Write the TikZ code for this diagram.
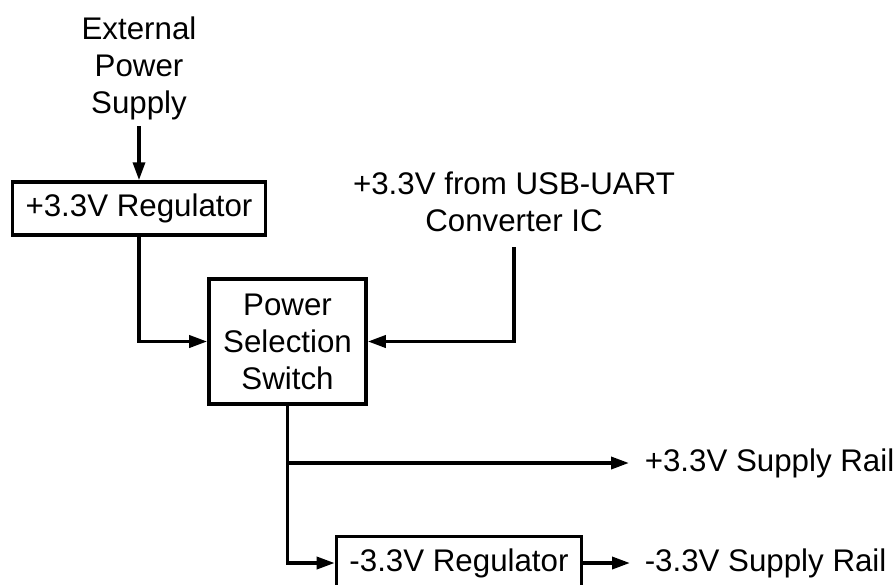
\documentclass[tikz,border=0pt]{standalone}
\usepackage{fontspec}
\setmainfont{Liberation Sans}
\usetikzlibrary{arrows.meta}

\begin{document}
\begin{tikzpicture}[font=\fontsize{17.8}{21}\selectfont,line width=2pt,
  box/.style={draw,inner xsep=.26cm,minimum height=1.06cm},
  lbl/.style={align=center,inner sep=.1cm},
  rail/.style={anchor=west,inner sep=0},
  >={Triangle[length=3.6mm,width=2.4mm]}]
\useasboundingbox (0,0) rectangle (17.92,-11.68);
\node[lbl,anchor=north] (ext) at (2.78,-0.20) {External\\Power\\Supply};
\node[box] (reg1) at (2.78,-4.17) {+3.3V Regulator};
\node[box,align=center,minimum width=3.14cm,minimum height=2.5cm] (sw) at (5.75,-6.83) {Power\\Selection\\Switch};
\node[lbl,anchor=north] (usb) at (10.28,-3.30) {+3.3V from USB-UART\\Converter IC};
\node[box] (reg2) at (9.18,-11.26) {-3.3V Regulator};
\node[rail] (pos) at (12.86,-9.26) {+3.3V Supply Rail};
\node[rail] (neg) at (12.86,-11.26) {-3.3V Supply Rail};
\draw[->] (ext)--(reg1);
\draw[->] (reg1.south)|-(sw.west);
\draw[->,shorten <=.18cm] (usb.south)|-(sw.east);
\draw[->] (sw.south)|-(reg2.west);
\draw[->,shorten >=.28cm] (sw.south|-pos.west)--(pos.west);
\draw[->,shorten >=.26cm] (reg2)--(neg);
\end{tikzpicture}
\end{document}
